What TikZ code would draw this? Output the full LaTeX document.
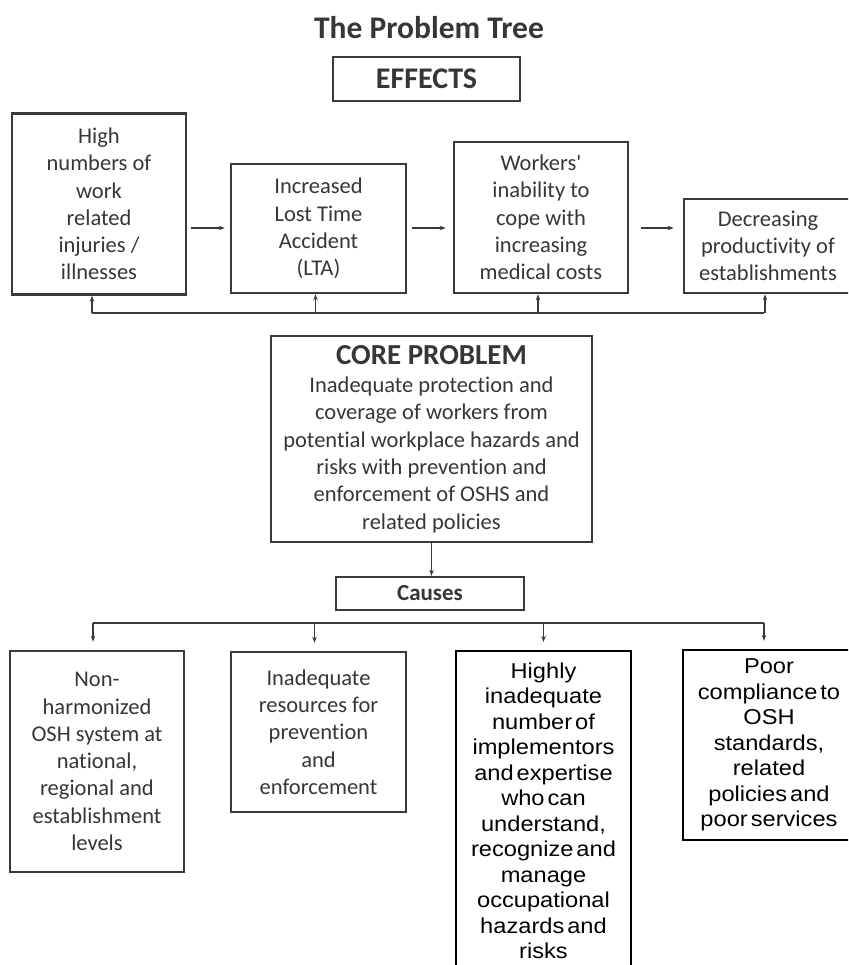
\documentclass[tikz,border=0pt]{standalone}
\usepackage{fontspec}
\setmainfont{Carlito}[Ligatures=NoCommon]
\newfontfamily\arialfont[FakeStretch=1.1, WordSpace=0.45]{Liberation Sans}
\usetikzlibrary{arrows.meta}
\definecolor{txtgray}{HTML}{363636}
\definecolor{linegray}{HTML}{3A3A3A}

\begin{document}
\begin{tikzpicture}[x=1pt,y=-1pt,
  box/.style={draw=linegray, line width=2.6pt, align=center, text=txtgray, inner sep=0pt,
    font=\fontsize{22.5}{27.3}\selectfont},
  blackbox/.style={draw=black, line width=2.2pt, align=center, text=black, inner sep=0pt,
    font=\arialfont\fontsize{21.5}{25.5}\selectfont},
  headbox/.style={draw=linegray, line width=2.4pt, text=txtgray, inner sep=0pt},
  conn/.style={draw=linegray, line width=1.6pt, -{Stealth[length=6pt,width=4.5pt]}},
  bus/.style={draw=linegray, line width=1.6pt}]

\useasboundingbox (0,0) rectangle (848,965);
\clip (0,0) rectangle (848,965);

% title
\node[text=txtgray, font=\bfseries\fontsize{31.5}{34}\selectfont] (title) at (429,28) {The Problem Tree};
\node[headbox, minimum width=187, minimum height=44, font=\bfseries\fontsize{30}{32}\selectfont] (eff) at (426.5,79) {EFFECTS};

% effects
\node[box, minimum width=174, minimum height=181] (e1) at (99,204)
  {High\\numbers of\\work\\related\\injuries /\\illnesses};
\node[box, minimum width=175, minimum height=129] (e2) at (318.5,228.5)
  {Increased\\Lost Time\\Accident\\(LTA)};
\node[box, minimum width=174, minimum height=151] (e3) at (541,217.5)
  {Workers\textquotesingle\\inability to\\cope with\\increasing\\medical costs};
\node[box, minimum width=168, minimum height=94] (e4) at (768,246)
  {Decreasing\\productivity of\\establishments};

\coordinate (row) at (0,228);
\draw[conn, shorten <=4pt, shorten >=5pt] (e1.east |- row) -- (e2.west |- row);
\draw[conn, shorten <=5pt, shorten >=7pt] (e2.east |- row) -- (e3.west |- row);
\draw[conn, shorten <=12pt, shorten >=9pt] (e3.east |- row) -- (e4.west |- row);

% feedback line
\coordinate (fb) at (0,313);
\draw[bus] ([xshift=-7pt]e1.south |- fb) -- ([xshift=-4pt]e4.south |- fb);
\draw[conn] ([xshift=-7pt]e1.south |- fb) -- ([xshift=-7pt]e1.south);
\foreach \n in {e2,e3,e4}
  \draw[conn] ([xshift=-3pt]\n.south |- fb) -- ([xshift=-3pt]\n.south);

% core problem
\node[box, minimum width=321, minimum height=206] (core) at (431.5,439)
  {{\bfseries\fontsize{29}{30}\selectfont CORE PROBLEM}\\[1pt]
   Inadequate protection and\\coverage of workers from\\potential workplace hazards and\\
   risks with prevention and\\enforcement of OSHS and\\related policies};

\node[headbox, minimum width=188, minimum height=33, font=\bfseries\fontsize{23}{25}\selectfont] (causes) at (430,593.5) {Causes};
\draw[conn] (core.south) -- (core.south |- causes.north);

% causes
\node[box, minimum width=174, minimum height=221] (c1) at (97,761.5)
  {Non-\\harmonized\\OSH system at\\national,\\regional and\\establishment\\levels};
\node[box, minimum width=175, minimum height=160] (c2) at (318.5,732)
  {Inadequate\\resources for\\prevention\\and\\enforcement};
\node[blackbox, minimum width=175, minimum height=320] (c3) at (543.5,811)
  {Highly\\inadequate\\number of\\implementors\\and expertise\\who can\\understand,\\recognize and\\manage\\occupational\\hazards and\\risks};
\node[blackbox, minimum width=172, minimum height=190] (c4) at (769,745)
  {Poor\\compliance to\\OSH\\standards,\\related\\policies and\\poor services};

\coordinate (cb) at (0,623);
\draw[bus] ([xshift=-4pt]c1.north |- cb) -- ([xshift=-5pt]c4.north |- cb);
\foreach \n/\s in {c1/-4,c2/-4,c3/0,c4/-5}
  \draw[conn, shorten >=8pt] ([xshift=\s pt]\n.north |- cb) -- ([xshift=\s pt]\n.north);

\end{tikzpicture}
\end{document}
